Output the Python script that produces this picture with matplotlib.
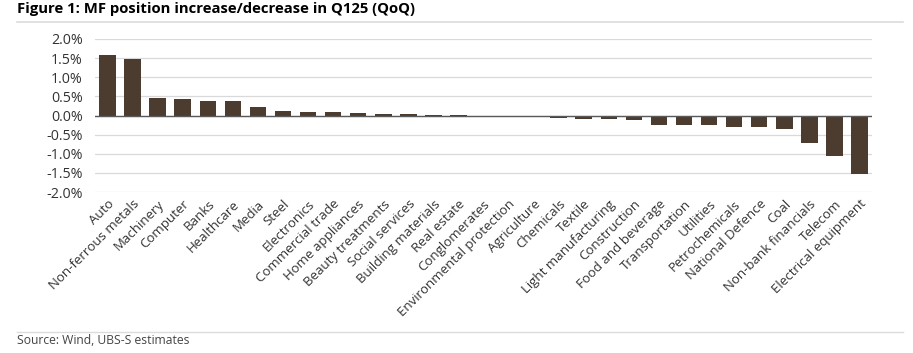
import matplotlib
matplotlib.use("Agg")
import matplotlib.pyplot as plt
from matplotlib.ticker import FuncFormatter
from matplotlib.lines import Line2D

categories = ["Auto", "Non-ferrous metals", "Machinery", "Computer", "Banks", "Healthcare",
              "Media", "Steel", "Electronics", "Commercial trade", "Home appliances",
              "Beauty treatments", "Social services", "Building materials", "Real estate",
              "Conglomerates", "Environmental protection", "Agriculture", "Chemicals",
              "Textile", "Light manufacturing", "Construction", "Food and beverage",
              "Transportation", "Utilities", "Petrochemicals", "National Defence", "Coal",
              "Non-bank financials", "Telecom", "Electrical equipment"]
values = [1.57, 1.47, 0.45, 0.43, 0.38, 0.37, 0.21, 0.12, 0.10, 0.08, 0.07,
          0.04, 0.035, 0.025, 0.01, -0.005, -0.02, -0.035, -0.06, -0.09, -0.10,
          -0.12, -0.24, -0.26, -0.26, -0.30, -0.30, -0.34, -0.72, -1.05, -1.52]
yticks = [2.0, 1.5, 1.0, 0.5, 0.0, -0.5, -1.0, -1.5, -2.0]

plt.rcParams['font.family'] = ['Open Sans', 'DejaVu Sans']

fig = plt.figure(figsize=(9.13, 3.53), dpi=100)
ax = fig.add_axes([95/913, 1-192/353, (872-95)/913, (192-39)/353])

x = list(range(len(categories)))
ax.bar(x, values, width=0.66, color="#4B3C2F", zorder=3)
ax.set_xlim(-0.5, len(categories)-0.5)
ax.set_ylim(-2.0, 2.0)
ax.set_yticks(yticks)
ax.yaxis.set_major_formatter(FuncFormatter(lambda v, p: f"{v:.1f}%"))
ax.grid(axis='y', color="#d9d9d9", linewidth=0.9, zorder=0)
ax.axhline(0, color="#595959", linewidth=1.0, zorder=4)
for s in ax.spines.values():
    s.set_visible(False)
ax.tick_params(axis='both', length=0, colors="#333333")
ax.tick_params(axis='y', pad=9, labelsize=10.3)
ax.set_xticks(x)
ax.set_xticklabels(categories, rotation=45, ha='right', rotation_mode='anchor',
                   fontsize=9.5, color="#333333")
ax.tick_params(axis='x', pad=4)

fig.text(17/913, 1-9/353, "Figure 1: MF position increase/decrease in Q125 (QoQ)",
         fontsize=10.7, fontweight='bold', va='center', ha='left', color="#000000")
fig.add_artist(Line2D([17/913, 903/913], [1-22/353, 1-22/353], color="#dcdcdc",
                      linewidth=1.2, transform=fig.transFigure))
fig.add_artist(Line2D([17/913, 903/913], [1-332/353, 1-332/353], color="#dcdcdc",
                      linewidth=1.0, transform=fig.transFigure))
fig.text(17/913, 1-341/353, "Source: Wind, UBS-S estimates", fontsize=8.7,
         va='center', ha='left', color="#444444")

fig.savefig("out.png", dpi=100)
